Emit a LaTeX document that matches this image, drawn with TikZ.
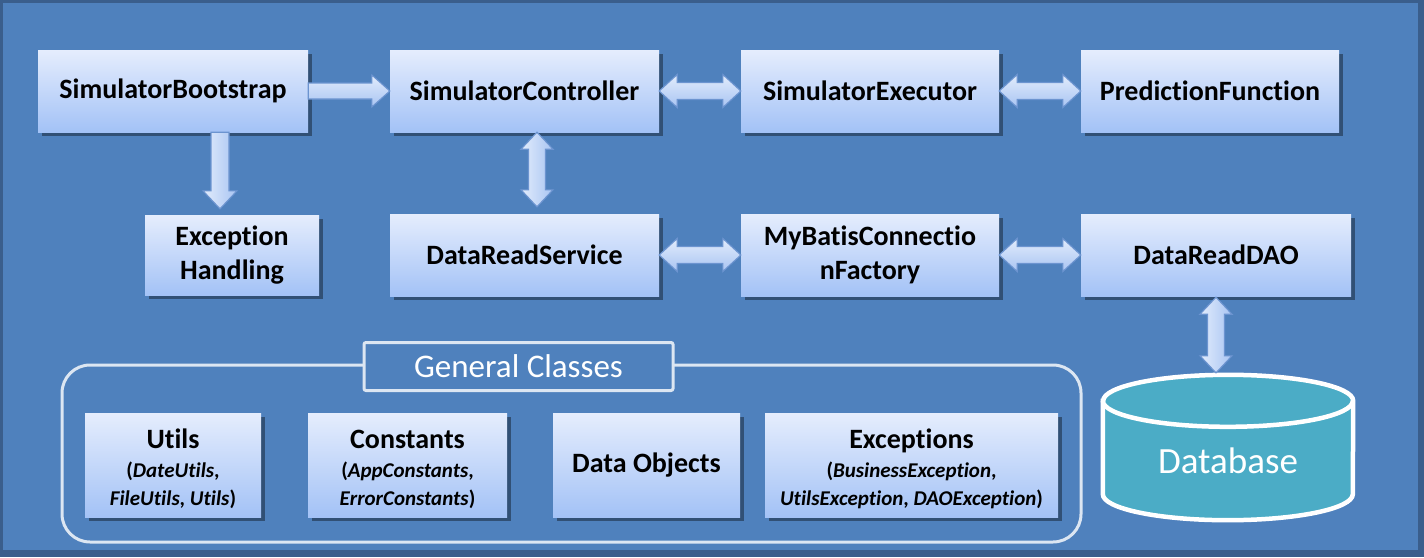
\documentclass[tikz,border=0pt]{standalone}
\usepackage{fontspec}
\setmainfont{Carlito}[Ligatures={NoCommon}]
\usetikzlibrary{calc,shadows}
\definecolor{bg}{RGB}{79,129,189}
\definecolor{framec}{RGB}{58,94,140}
\definecolor{boxtop}{RGB}{229,237,253}
\definecolor{boxbot}{RGB}{163,194,246}
\definecolor{arrtop}{RGB}{226,236,252}
\definecolor{arrbot}{RGB}{168,196,242}
\definecolor{arrline}{RGB}{108,148,208}
\definecolor{lightline}{RGB}{220,230,242}
\definecolor{dbfill}{RGB}{75,172,198}
\newcommand{\smtxt}{\fontsize{21}{28}\selectfont}
% horizontal double arrow between two points
\newcommand{\Harr}[2]{\path[harr] let \p1=(#1), \p2=(#2) in
  (\x1,\y1) -- (\x1+18pt,\y1+16.5pt) -- (\x1+18pt,\y1+8.5pt) -- (\x2-18pt,\y1+8.5pt)
  -- (\x2-18pt,\y1+16.5pt) -- (\x2,\y1) -- (\x2-18pt,\y1-16.5pt) -- (\x2-18pt,\y1-8.5pt)
  -- (\x1+18pt,\y1-8.5pt) -- (\x1+18pt,\y1-16.5pt) -- cycle;}
% horizontal single arrow
\newcommand{\Sarr}[2]{\path[harr] let \p1=(#1), \p2=(#2) in
  (\x1,\y1+8pt) -- (\x2-18pt,\y1+8pt) -- (\x2-18pt,\y1+16pt) -- (\x2,\y1)
  -- (\x2-18pt,\y1-16pt) -- (\x2-18pt,\y1-8pt) -- (\x1,\y1-8pt) -- cycle;}
% vertical double arrow (x taken from the first point)
\newcommand{\Varr}[2]{\path[varr] let \p1=(#1), \p2=(#2) in
  (\x1,\y1) -- (\x1+16pt,\y1-17pt) -- (\x1+8.5pt,\y1-17pt) -- (\x1+8.5pt,\y2+17pt)
  -- (\x1+16pt,\y2+17pt) -- (\x1,\y2) -- (\x1-16pt,\y2+17pt) -- (\x1-8.5pt,\y2+17pt)
  -- (\x1-8.5pt,\y1-17pt) -- (\x1-16pt,\y1-17pt) -- cycle;}
% vertical single arrow down
\newcommand{\Darr}[2]{\path[varr] let \p1=(#1), \p2=(#2) in
  (\x1-9pt,\y1) -- (\x1+9pt,\y1) -- (\x1+9pt,\y2+18pt) -- (\x1+17pt,\y2+18pt)
  -- (\x1,\y2) -- (\x1-17pt,\y2+18pt) -- (\x1-9pt,\y2+18pt) -- cycle;}
\begin{document}
\begin{tikzpicture}[x=1pt,y=-1pt,
  box/.style={shading=axis, top color=boxtop, bottom color=boxbot, draw=none,
    align=center, inner sep=0pt, font=\bfseries\fontsize{28}{34}\selectfont,
    drop shadow={shadow xshift=3.5pt, shadow yshift=-3.5pt, opacity=0.5, fill=black!75!bg}},
  boxtext/.style={align=center, inner sep=0pt, font=\bfseries\fontsize{28}{34}\selectfont},
  harr/.style={draw=arrline, line width=1.1pt, top color=arrtop, bottom color=arrbot, line join=miter},
  varr/.style={draw=arrline, line width=1.1pt, left color=arrtop, right color=arrbot, line join=miter},
  ]
\useasboundingbox (0,0) rectangle (1424,557);
\fill[framec] (0,0) rectangle (1424,557);
\fill[bg] (3,3) rectangle (1418,550);

% top row
\node[box, minimum width=270pt, minimum height=82pt] (boot) at (173,91) {SimulatorBootstrap};
\node[box, minimum width=269pt, minimum height=82pt] (ctrl) at (524.5,91) {SimulatorController};
\node[box, minimum width=258pt, minimum height=82pt] (exec) at (870,91) {SimulatorExecutor};
\node[box, minimum width=258pt, minimum height=82pt] (pred) at (1210,91) {PredictionFunction};
% second row
\node[box, minimum width=174pt, minimum height=80pt] (exh) at (232,255) {Exception\\Handling};
\node[box, minimum width=269pt, minimum height=82pt] (svc) at (524.5,255) {DataReadService};
\node[box, minimum width=258pt, minimum height=82pt] (myb) at (870,255) {MyBatisConnectio\\nFactory};
\node[box, minimum width=270pt, minimum height=82pt] (dao) at (1216,255) {DataReadDAO};

% arrows
\Sarr{boot.east}{ctrl.west}
\Harr{ctrl.east}{exec.west}
\Harr{exec.east}{pred.west}
\Harr{svc.east}{myb.west}
\Harr{myb.east}{dao.west}
\Darr{$(boot.south)+(47,0)$}{$(exh.north)+(-12,-6)$}
\Varr{$(ctrl.south)+(12.5,0)$}{$(svc.north)+(12.5,-7)$}

% general classes group
\node[draw=lightline, line width=3pt, rounded corners=28pt, minimum width=1019pt, minimum height=177pt] (grp) at (571.5,453.5) {};
\node[draw=lightline, fill=bg, line width=3pt, rounded corners=2pt, minimum width=309pt, minimum height=48pt,
  text=white, font=\fontsize{33}{38}\selectfont] (gct) at (518.5,366.5) {General Classes};

\node[box, minimum width=176pt, minimum height=104pt] (utils) at (173,465) {};
\node[boxtext] (utilsT) at ($(utils.center)+(0,4)$)
  {Utils\\[-5pt]{\smtxt(\textit{DateUtils},}\\[-6pt]{\smtxt\textit{FileUtils}, \textit{Utils})}};
\node[box, minimum width=199pt, minimum height=104pt] (const) at (407.5,465) {};
\node[boxtext] (constT) at ($(const.center)+(0,4)$)
  {Constants\\[-5pt]{\smtxt(\textit{AppConstants},}\\[-6pt]{\smtxt\textit{ErrorConstants})}};
\node[box, minimum width=187pt, minimum height=104pt] (dobj) at (646.5,465) {Data Objects};
\node[box, minimum width=293pt, minimum height=104pt] (excs) at (911.5,465) {};
\node[boxtext] (excsT) at ($(excs.center)+(0,4)$)
  {Exceptions\\[-5pt]{\smtxt(\textit{BusinessException},}\\[-6pt]{\smtxt\textit{UtilsException}, \textit{DAOException})}};

% database
\node[minimum width=250pt, minimum height=145pt, inner sep=0pt] (db) at (1228,447.5) {};
\draw[fill=dbfill, draw=white, line width=4.5pt]
  ($(db.north west)+(0,26)$) -- ($(db.south west)+(0,-26)$)
  arc[start angle=180, end angle=360, x radius=125pt, y radius=26pt]
  -- ($(db.north east)+(0,26)$)
  arc[start angle=0, end angle=180, x radius=125pt, y radius=26pt] -- cycle;
\draw[draw=white, line width=4.5pt] ($(db.north west)+(0,26)$)
  arc[start angle=180, end angle=360, x radius=125pt, y radius=26pt];
\node[text=white, font=\fontsize{37}{44}\selectfont, anchor=base] (dbl) at (1228,473) {Database};
\Varr{$(dao.south)+(0,1)$}{$(db.north)+(0,-2)$}
\end{tikzpicture}
\end{document}
